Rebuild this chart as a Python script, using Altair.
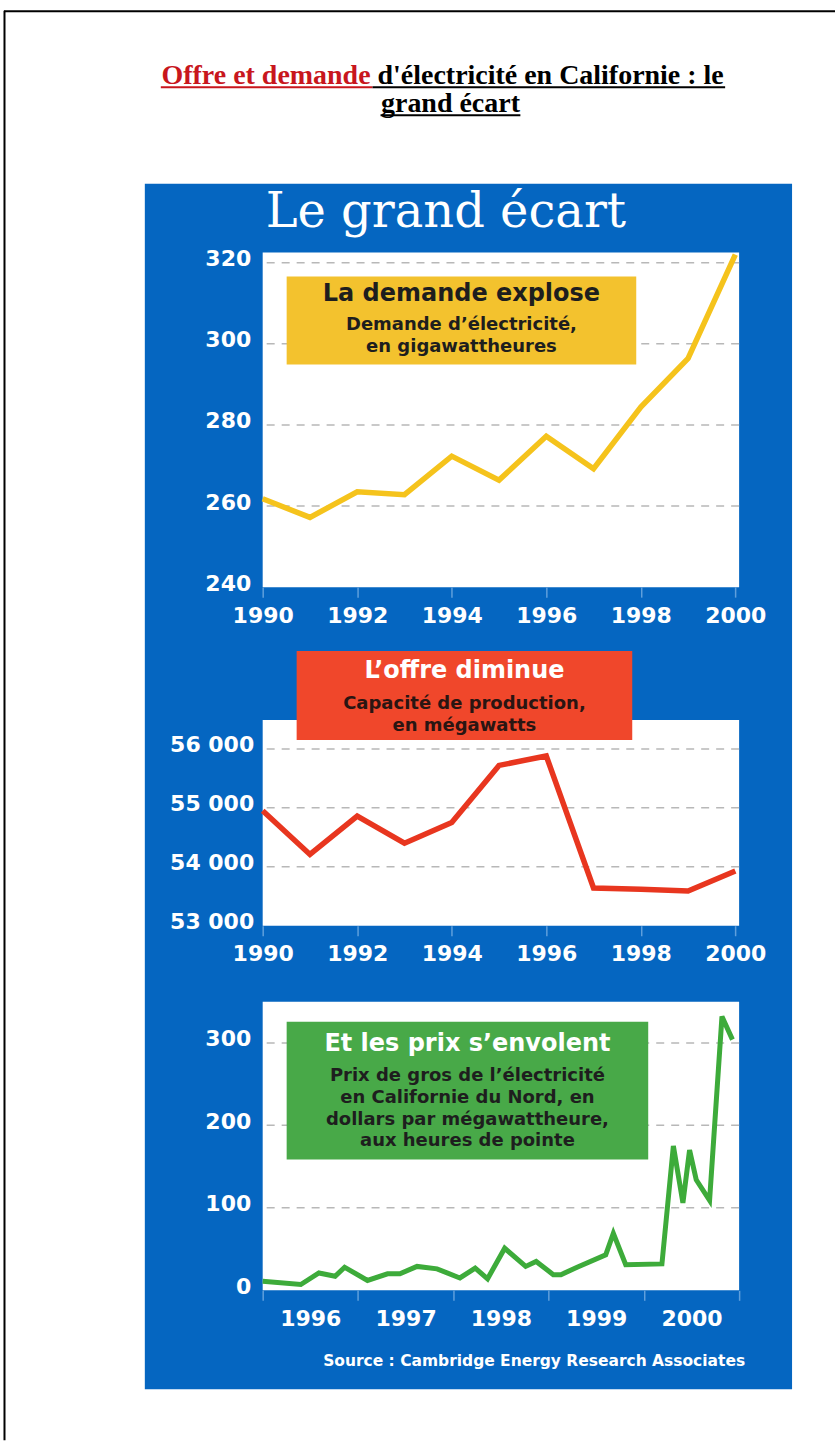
import altair as alt
import pandas as pd

# ---------------- data ----------------
years = [1990, 1991, 1992, 1993, 1994, 1995, 1996, 1997, 1998, 1999, 2000]
demand_values = [261.8, 257.2, 263.5, 262.8, 272.3, 266.4, 277.2, 269.2, 284.4, 296.4, 322.0]
supply_values = [54950, 54210, 54860, 54400, 54750, 55720, 55880, 53640, 53620, 53590, 53930]

price_dates = [1996.00, 1996.40, 1996.59, 1996.76, 1996.86, 1997.10, 1997.31, 1997.44,
               1997.62, 1997.83, 1998.07, 1998.23, 1998.36, 1998.54, 1998.76, 1998.87,
               1999.05, 1999.13, 1999.30, 1999.60, 1999.68, 1999.81, 2000.19, 2000.31,
               2000.41, 2000.48, 2000.55, 2000.69, 2000.82, 2000.93]
price_values = [11, 7, 21, 17, 28, 12, 20, 20,
                29, 26, 15, 27, 14, 51, 29, 35,
                19, 19, 28, 43, 69, 31, 32, 175,
                106, 170, 134, 109, 332, 304]

demand_ticks = [240, 260, 280, 300, 320]
supply_ticks = [53000, 54000, 55000, 56000]
price_ticks = [0, 100, 200, 300]
year_ticks = [1990, 1992, 1994, 1996, 1998, 2000]
price_year_ticks = [1996, 1997, 1998, 1999, 2000, 2001]

title_red = "Offre et demande"
title_black = "d'électricité en Californie : le"
title_line2 = "grand écart"
banner = "Le grand écart"
box1 = ["La demande explose", "Demande d’électricité,", "en gigawattheures"]
box2 = ["L’offre diminue", "Capacité de production,", "en mégawatts"]
box3 = ["Et les prix s’envolent", "Prix de gros de l’électricité",
        "en Californie du Nord, en", "dollars par mégawattheure,", "aux heures de pointe"]
source = "Source : Cambridge Energy Research Associates"

# ---------------- style / layout ----------------
BLUE = "#0566c1"
YELLOW_LINE = "#f5c31c"
YELLOW_BOX = "#f3c22e"
RED_LINE = "#e8361f"
RED_BOX = "#f0472b"
GREEN_LINE = "#3dab3a"
GREEN_BOX = "#48a948"
GRID = "#b8b8b8"
TICK = "#5f9fdc"
DARK = "#1e1e1e"
SANS = "DejaVu Sans"
AXIS_SIZE = 22
BOX_TITLE = 24
BOX_SUB = 18

PX = 263      # page x of plot left edge
W = 477
Y0 = 182      # page y of header cell
H0, H1, G1, H2, G2, H3 = 70, 335, 133, 206, 76, 289

one = pd.DataFrame({"k": [0]})


def rect(x1, x2, y1, y2, color):
    return alt.Chart(one).mark_rect(fill=color, strokeWidth=0).encode(
        x=alt.value(x1), x2=alt.value(x2), y=alt.value(y1), y2=alt.value(y2))


def hrule(x1, x2, y, color, w):
    return alt.Chart(one).mark_rule(color=color, strokeWidth=w).encode(
        x=alt.value(x1), x2=alt.value(x2), y=alt.value(y))


def vrule(x, y1, y2, color, w):
    return alt.Chart(one).mark_rule(color=color, strokeWidth=w).encode(
        x=alt.value(x), y=alt.value(y1), y2=alt.value(y2))


def label(s, x, y, size, color, font=SANS, weight="bold", align="center", baseline="middle"):
    return alt.Chart(one).mark_text(
        text=s, font=font, fontSize=size, fontWeight=weight, color=color,
        align=align, baseline=baseline).encode(x=alt.value(x), y=alt.value(y))


def yaxis(values, fmt_expr=None, pad=12):
    kw = dict(values=values, title=None, ticks=False, domain=False, grid=False,
              labelColor="white", labelFont=SANS, labelFontWeight="bold",
              labelFontSize=AXIS_SIZE, labelPadding=pad, labelOffset=-4)
    if fmt_expr:
        kw["labelExpr"] = fmt_expr
    return alt.Axis(**kw)


def xaxis(values, offset=0, expr=None):
    kw = dict(values=values, format="d", title=None, domain=False, grid=False,
              tickColor=TICK, tickSize=10, tickWidth=1.5,
              labelColor="white", labelFont=SANS, labelFontWeight="bold",
              labelFontSize=AXIS_SIZE, labelPadding=8, labelFlush=False, labelOverlap=False)
    if offset:
        kw["labelOffset"] = offset
    if expr:
        kw["labelExpr"] = expr
    return alt.Axis(**kw)


# ---------------- header (page, border, title, blue panel) ----------------
header = alt.layer(
    rect(0 - PX, 836 - PX, 0 - Y0, 1441 - Y0, "white"),
    hrule(4 - PX, 836 - PX, 10.5 - Y0, "black", 2),
    vrule(4.5 - PX, 10 - Y0, 1441 - Y0, "black", 2),
    rect(145 - PX, 793 - PX, 183 - Y0, 1390 - Y0, BLUE),
    label(title_red, 371 - PX, 83 - Y0, 28, "#c8161d", font="Liberation Serif",
          align="right", baseline="alphabetic"),
    label(title_black, 378 - PX, 83 - Y0, 28, "black", font="Liberation Serif",
          align="left", baseline="alphabetic"),
    label(title_line2, 451 - PX, 111 - Y0, 28, "black", font="Liberation Serif",
          baseline="alphabetic"),
    hrule(161 - PX, 373 - PX, 86.5 - Y0, "#c8161d", 2),
    hrule(373 - PX, 726 - PX, 86.5 - Y0, "black", 2),
    hrule(381 - PX, 521 - PX, 114.5 - Y0, "black", 2),
    label(banner, 266 - PX, 226 - Y0, 48, "white", font="DejaVu Serif",
          weight="normal", align="left", baseline="alphabetic"),
).properties(width=W, height=H0)

# ---------------- top chart: demand ----------------
xs1 = alt.Scale(domain=[1990, 2000.08], nice=False, zero=False)
ys1 = alt.Scale(domain=[240, 322.5], nice=False, zero=False)
df1 = pd.DataFrame({"x": years, "y": demand_values})
grid1 = pd.DataFrame({"y": [t for t in demand_ticks if t > demand_ticks[0]]})

top = alt.layer(
    rect(0, W, 0, H1, "white"),
    alt.Chart(grid1).mark_rule(color=GRID, strokeDash=[8, 7], strokeWidth=1.5).encode(
        y=alt.Y("y:Q", scale=ys1, axis=yaxis(demand_ticks))),
    rect(287 - PX, 637 - PX, 276 - 252, 364 - 252, YELLOW_BOX),
    label(box1[0], 462 - PX, 293 - 252, BOX_TITLE, DARK),
    label(box1[1], 462 - PX, 325 - 252, BOX_SUB, DARK),
    label(box1[2], 462 - PX, 347 - 252, BOX_SUB, DARK),
    alt.Chart(df1).mark_line(color=YELLOW_LINE, strokeWidth=5.5).encode(
        x=alt.X("x:Q", scale=xs1, axis=xaxis(year_ticks)),
        y=alt.Y("y:Q", scale=ys1, axis=yaxis(demand_ticks))),
).properties(width=W, height=H1)

# ---------------- middle chart: supply ----------------
xs2 = alt.Scale(domain=[1990, 2000.08], nice=False, zero=False)
ys2 = alt.Scale(domain=[53000, 56490], nice=False, zero=False)
df2 = pd.DataFrame({"x": years, "y": supply_values})
grid2 = pd.DataFrame({"y": [t for t in supply_ticks if t > supply_ticks[0]]})
kexpr = "format(datum.value / 1000, 'd') + ' 000'"

mid = alt.layer(
    rect(0, W, 0, H2, "white"),
    alt.Chart(grid2).mark_rule(color=GRID, strokeDash=[8, 7], strokeWidth=1.5).encode(
        y=alt.Y("y:Q", scale=ys2, axis=yaxis(supply_ticks, kexpr, 9))),
    rect(297 - PX, 633 - PX, 651 - 720, 740 - 720, RED_BOX),
    label(box2[0], 465 - PX, 671 - 720, BOX_TITLE, "white"),
    label(box2[1], 465 - PX, 704 - 720, BOX_SUB, "#2a1512"),
    label(box2[2], 465 - PX, 726 - 720, BOX_SUB, "#2a1512"),
    alt.Chart(df2).mark_line(color=RED_LINE, strokeWidth=5.5).encode(
        x=alt.X("x:Q", scale=xs2, axis=xaxis(year_ticks)),
        y=alt.Y("y:Q", scale=ys2, axis=yaxis(supply_ticks, kexpr, 9))),
).properties(width=W, height=H2)

# ---------------- bottom chart: prices ----------------
xs3 = alt.Scale(domain=[1996, 2001], nice=False, zero=False)
ys3 = alt.Scale(domain=[0, 350], nice=False, zero=False)
df3 = pd.DataFrame({"x": price_dates, "y": price_values})
grid3 = pd.DataFrame({"y": [t for t in price_ticks if t > price_ticks[0]]})
half_year = W / (price_year_ticks[-1] - price_year_ticks[0]) / 2
yexpr = "datum.value > 2000.5 ? '' : datum.label"

bot = alt.layer(
    rect(0, W, 0, H3, "white"),
    alt.Chart(grid3).mark_rule(color=GRID, strokeDash=[8, 7], strokeWidth=1.5).encode(
        y=alt.Y("y:Q", scale=ys3, axis=yaxis(price_ticks))),
    rect(287 - PX, 649 - PX, 1022 - 1002, 1160 - 1002, GREEN_BOX),
    label(box3[0], 468 - PX, 1044 - 1002, BOX_TITLE, "white"),
    label(box3[1], 468 - PX, 1076 - 1002, BOX_SUB, DARK),
    label(box3[2], 468 - PX, 1098 - 1002, BOX_SUB, DARK),
    label(box3[3], 468 - PX, 1120 - 1002, BOX_SUB, DARK),
    label(box3[4], 468 - PX, 1142 - 1002, BOX_SUB, DARK),
    label(source, 746 - PX, 1362 - 1002, 15.5, "white", align="right"),
    alt.Chart(df3).mark_line(color=GREEN_LINE, strokeWidth=5, strokeJoin="miter").encode(
        x=alt.X("x:Q", scale=xs3, axis=xaxis(price_year_ticks, half_year, yexpr)),
        y=alt.Y("y:Q", scale=ys3, axis=yaxis(price_ticks))),
).properties(width=W, height=H3)


def spacer(h):
    return alt.Chart(one).mark_point(opacity=0).encode(
        x=alt.value(0), y=alt.value(0)).properties(width=W, height=h)


chart = alt.vconcat(
    header, top, spacer(G1), mid, spacer(G2), bot, spacing=0, bounds="flush"
).properties(padding=0).configure_view(stroke=None)

chart.save("out.html", embed_options={"renderer": "svg", "actions": False})
